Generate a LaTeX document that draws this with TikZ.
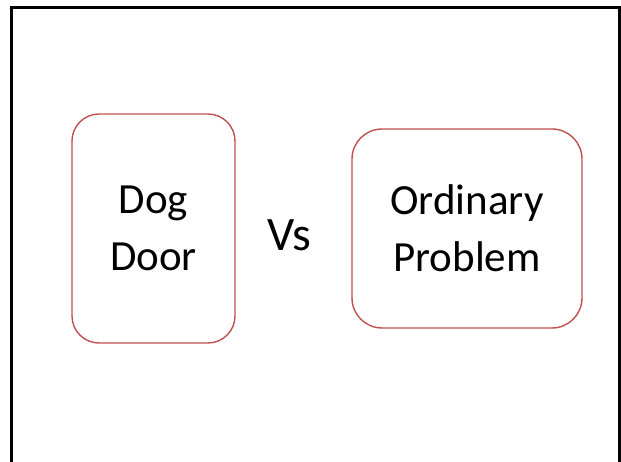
\documentclass[tikz,border=0pt]{standalone}
\usepackage{fontspec}
\setmainfont{Carlito}
\definecolor{cardred}{RGB}{192,80,77}
\tikzset{
  card/.style={draw=cardred, line width=1.4pt, rounded corners=27pt, align=center,
    inner sep=0pt, font={\fontsize{43}{57}\selectfont}},
}
\begin{document}
\begin{tikzpicture}[x=1pt, y=-1pt]
\useasboundingbox (0,0) rectangle (621,462);
\begin{scope}
\clip (0,0) rectangle (621,462);
\draw[line width=3pt] (11.5,8) rectangle (619,480);
\end{scope}

\node[card, minimum width=163pt, minimum height=229pt] (dog) at (153.5,228.5) {Dog\\Door};
\node[card, minimum width=230pt, minimum height=199pt, rounded corners=30pt] (ordinary) at (467,228.5) {Ordinary\\Problem};
\node[font={\fontsize{48}{56}\selectfont}, inner sep=0pt] (vs) at (289,235) {Vs};

\end{tikzpicture}
\end{document}
